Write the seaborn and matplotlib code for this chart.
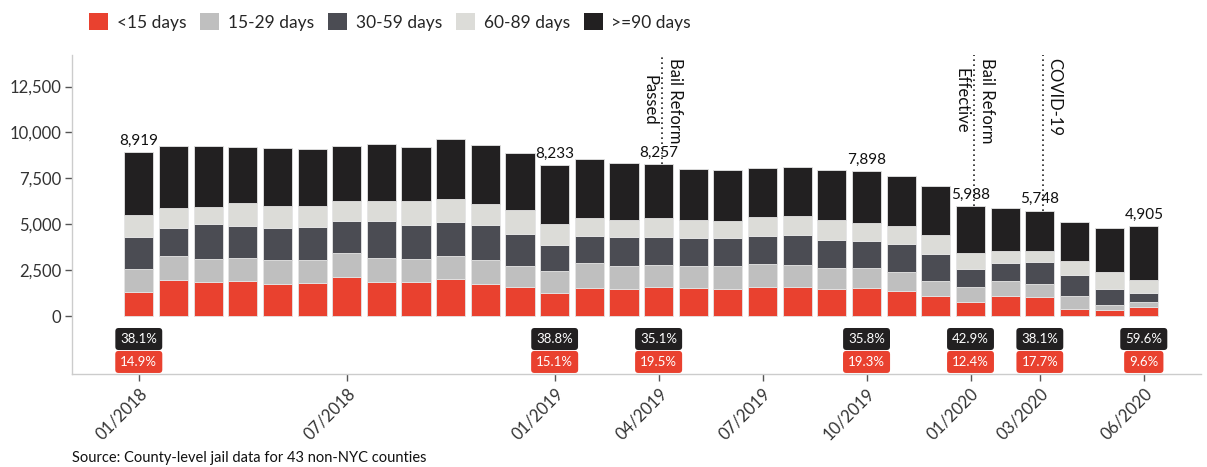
import numpy as np
import pandas as pd
import matplotlib
matplotlib.use('Agg')
import matplotlib.pyplot as plt
from matplotlib.patches import Patch
from matplotlib.ticker import FuncFormatter
import seaborn as sns

# monthly jail population by length of stay
months = pd.date_range('2018-01-01', periods=30, freq='MS').strftime('%m/%Y').tolist()

lt15 = [1329, 1979, 1870, 1889, 1762, 1798, 2125, 1834, 1834, 2016,
        1762, 1562, 1243, 1507, 1471, 1610, 1526, 1489, 1598, 1598,
        1471, 1524, 1362, 1071, 743, 1071, 1017, 363, 327, 471]
d15_29 = [1231, 1290, 1253, 1289, 1271, 1271, 1325, 1344, 1289, 1253,
          1271, 1144, 1208, 1362, 1235, 1150, 1180, 1217, 1235, 1162,
          1126, 1109, 1035, 836, 819, 854, 708, 708, 272, 273]
d30_59 = [1725, 1507, 1870, 1707, 1779, 1779, 1725, 1997, 1816, 1852,
          1906, 1743, 1435, 1489, 1615, 1561, 1525, 1525, 1525, 1652,
          1525, 1434, 1543, 1452, 980, 944, 1199, 1162, 872, 491]
d60_89 = [1236, 1089, 945, 1252, 1162, 1162, 1108, 1108, 1344, 1252,
          1144, 1307, 1153, 980, 909, 1038, 999, 962, 1017, 1017,
          1089, 1004, 945, 1035, 877, 654, 634, 745, 908, 747]
ge90 = [3398, 3414, 3341, 3087, 3159, 3069, 2996, 3086, 2941, 3250,
        3232, 3123, 3194, 3214, 3086, 2898, 2796, 2760, 2705, 2706,
        2724, 2827, 2759, 2706, 2569, 2378, 2190, 2161, 2433, 2923]

categories = ['<15 days', '15-29 days', '30-59 days', '60-89 days', '>=90 days']
colors = ['#E9412F', '#BFBFBF', '#4B4C53', '#DCDCD8', '#222021']

tick_months = ['01/2018', '07/2018', '01/2019', '04/2019', '07/2019',
               '10/2019', '01/2020', '03/2020', '06/2020']
labelled_months = ['01/2018', '01/2019', '04/2019', '10/2019', '01/2020', '03/2020', '06/2020']
events = [('04/2019', 'Bail Reform\nPassed'),
          ('01/2020', 'Bail Reform\nEffective'),
          ('03/2020', 'COVID-19')]

df = pd.DataFrame({'month': months, '<15 days': lt15, '15-29 days': d15_29,
                   '30-59 days': d30_59, '60-89 days': d60_89, '>=90 days': ge90})

sns.set_theme(style='white')
plt.rcParams['font.family'] = ['Lato', 'DejaVu Sans']

fig = plt.figure(figsize=(12.07, 4.67), dpi=100)
ax = fig.add_axes([0.06, 0.199, 0.935, 0.683])

# stacked bars
bottom = np.zeros(len(df))
for cat, col in zip(categories, colors):
    sns.barplot(data=df, x='month', y=cat, order=months, bottom=bottom, color=col,
                saturation=1, width=0.84, errorbar=None, edgecolor='#e4e4e4',
                linewidth=0.6, ax=ax)
    bottom = bottom + df[cat].values
total = bottom

ymin, ymax = -3160, 14215
ax.set_ylim(ymin, ymax)
ax.set_xlim(-1.915, 30.65)
pos = {m: i for i, m in enumerate(months)}

# totals and share boxes
for m in labelled_months:
    i = pos[m]
    ax.annotate(f'{int(total[i]):,}', (i, total[i]), xytext=(0, 3), textcoords='offset points',
                ha='center', va='bottom', fontsize=11, color='#111111')
    p90 = df['>=90 days'][i] / total[i] * 100
    p15 = df['<15 days'][i] / total[i] * 100
    ax.text(i, -1250, f'{p90:.1f}%', ha='center', va='center', color='white', fontsize=9.5,
            bbox=dict(boxstyle='round,pad=0.38,rounding_size=0.25', fc='#222021', ec='none'))
    ax.text(i, -2500, f'{p15:.1f}%', ha='center', va='center', color='white', fontsize=9.5,
            bbox=dict(boxstyle='round,pad=0.38,rounding_size=0.25', fc='#E9412F', ec='none'))

# policy / covid markers
for m, txt in events:
    i = pos[m] + 0.1
    ax.plot([i, i], [total[pos[m]], ymax], linestyle=(0, (1, 2)), color='#222222', lw=1.2)
    if '\n' in txt:
        ha, dx = 'center', 0
    else:
        ha, dx = 'left', 2
    ax.annotate(txt, (i, ymax), xytext=(dx, -2), textcoords='offset points', rotation=270,
                ha=ha, va='top', fontsize=12, color='#111111', linespacing=1.7)

ax.set_yticks(range(0, 12501, 2500))
ax.yaxis.set_major_formatter(FuncFormatter(lambda v, p: f'{int(v):,}'))
ax.set_xticks([pos[m] for m in tick_months])
ax.set_xticklabels(tick_months, rotation=45, ha='right', rotation_mode='anchor')
ax.set_xlabel('')
ax.set_ylabel('')
ax.tick_params(axis='both', which='both', length=5, width=1, color='#555555',
               labelsize=12, labelcolor='#333333', pad=3)
ax.tick_params(axis='x', bottom=True)
ax.tick_params(axis='y', left=True)

sns.despine(ax=ax)
for s in ['left', 'bottom']:
    ax.spines[s].set_color('#cccccc')
    ax.spines[s].set_linewidth(1)

if ax.get_legend() is not None:
    ax.get_legend().remove()
handles = [Patch(facecolor=c, edgecolor='none', label=l) for l, c in zip(categories, colors)]
fig.legend(handles=handles, loc='center left', bbox_to_anchor=(0.068, 0.953), ncol=5,
           frameon=False, fontsize=12.5, handlelength=1.1, handleheight=1.1,
           columnspacing=0.8, handletextpad=0.5, borderaxespad=0)

fig.text(0.06, 0.004, 'Source: County-level jail data for 43 non-NYC counties',
         fontsize=10.5, color='#111111', va='bottom')

fig.savefig('out.png', dpi=100)
